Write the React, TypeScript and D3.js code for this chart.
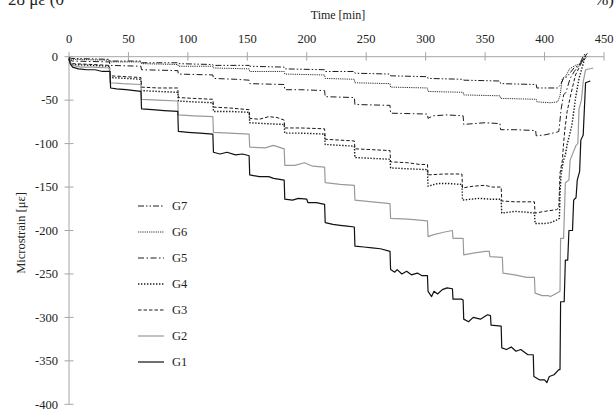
import React from "react";
import * as d3 from "d3";

type P = [number, number];

const xTicks = [0, 50, 100, 150, 200, 250, 300, 350, 400, 450];
const yTicks = [0, -50, -100, -150, -200, -250, -300, -350, -400];
const seriesNames = ["G7", "G6", "G5", "G4", "G3", "G2", "G1"];

const g1: P[] = [
  [0, -2], [1, -8], [3, -12], [8, -14], [15, -15], [22, -15], [28, -17], [34.5, -17],
  [35, -36], [40, -37], [48, -38], [55, -39], [60.5, -40],
  [61, -60], [70, -61], [80, -62], [91.5, -63],
  [92, -86], [100, -87], [110, -88], [121, -89],
  [121.5, -110], [127, -112], [133, -110], [140, -113], [146, -112], [151.5, -114],
  [152, -136], [160, -138], [168, -138], [172, -140], [181, -142],
  [181.5, -164], [188, -165], [193, -163], [200, -164], [201, -168], [208, -168], [215, -170],
  [215.5, -191], [222, -193], [228, -194], [234, -195], [240, -196],
  [240.5, -218], [248, -219], [255, -220], [262, -221], [270, -224],
  [270.5, -245], [274, -248], [276, -245], [280, -250], [284, -247], [288, -251], [293, -249], [297, -252], [301.5, -252],
  [302, -270], [305, -276], [307, -270], [310, -273], [314, -268], [318, -266], [322.5, -267],
  [323, -279], [330, -279], [331.5, -280],
  [332, -302], [336, -305], [340, -300], [346, -302], [352, -297], [354.5, -298],
  [355, -309], [363.5, -310],
  [364, -335], [368, -337], [372, -334], [376, -339], [380, -337], [386, -343], [390.5, -343],
  [391, -368], [396, -372], [400, -372], [402, -375], [404, -368], [408, -366], [412, -360],
  [413, -360], [413.5, -282], [416.5, -282], [417.5, -234], [419.5, -234], [420.5, -200], [423.5, -200],
  [424.5, -165], [426.5, -162], [427.5, -142], [429.5, -132], [430.5, -96], [432.5, -90], [434.5, -30], [438.5, -28],
];

const g2: P[] = [
  [0, -2], [1, -6], [3, -10], [10, -12], [20, -12], [34, -13],
  [34.5, -30], [45, -31], [60.5, -32],
  [61, -49], [75, -50], [91.5, -51],
  [92, -67], [105, -68], [121, -69],
  [121.5, -87], [135, -88], [151.5, -89],
  [152, -104], [165, -105], [172, -102], [181, -106],
  [181.5, -125], [190, -125], [198, -122], [205, -126], [215, -127],
  [215.5, -145], [228, -147], [240, -148],
  [240.5, -165], [255, -167], [270, -169],
  [270.5, -186], [285, -187], [301.5, -189],
  [302, -207], [306, -205], [315, -202], [322.5, -200],
  [323, -209], [331.5, -209],
  [332, -228], [340, -226], [350, -224], [353.5, -224],
  [354, -230], [364.5, -231],
  [365, -249], [375, -251], [385, -254], [391.5, -254],
  [392, -272], [398, -275], [403, -275], [405, -276], [409, -273], [413, -270],
  [413.5, -209], [416, -209], [417.5, -145], [420.5, -142], [421.5, -119], [426.5, -102], [428, -100],
  [429, -60], [431, -50], [432.5, -29], [434.5, -15], [441, -13],
];

const g3: P[] = [
  [0, -3], [1, -6], [3, -8], [20, -9], [34, -10],
  [34.5, -22], [48, -23], [60.5, -24],
  [61, -35], [75, -36], [91.5, -36],
  [92, -47], [105, -48], [121, -49],
  [121.5, -58], [135, -59], [151.5, -61],
  [152, -71], [160, -72], [168, -69], [175, -70], [181, -73],
  [181.5, -82], [195, -82], [215, -83],
  [215.5, -95], [228, -96], [240, -97],
  [240.5, -106], [255, -107], [270, -108],
  [270.5, -121], [285, -122], [295, -124], [301.5, -124],
  [302, -136], [315, -135], [330.5, -135],
  [331, -151], [340, -149], [350, -148], [356, -150], [363.5, -150],
  [364, -166], [375, -167], [391.5, -167],
  [392, -180], [400, -178], [410, -176], [412, -174],
  [413, -134], [415, -119], [416, -100], [417, -85], [419, -63], [422, -44], [426, -21], [430, -10], [433, -2], [436, 4],
];

const g4: P[] = [
  [0, -3], [1, -7], [3, -9], [20, -10], [34, -11],
  [34.5, -24], [48, -25], [60.5, -26],
  [61, -39], [75, -40], [91.5, -41],
  [92, -51], [105, -52], [121, -53],
  [121.5, -63], [135, -63], [151.5, -64],
  [152, -76], [165, -77], [181, -78],
  [181.5, -88], [195, -88], [215, -89],
  [215.5, -101], [228, -102], [240, -103],
  [240.5, -116], [255, -117], [270, -118],
  [270.5, -128], [285, -129], [301.5, -130],
  [302, -149], [310, -146], [320, -146], [330.5, -147],
  [331, -165], [345, -163], [355, -164], [363.5, -164],
  [364, -180], [375, -178], [385, -179], [391.5, -180],
  [392, -192], [400, -192], [405, -191], [410, -188], [412.5, -186],
  [413, -157], [414, -134], [416, -119], [417.5, -113], [419, -101], [423, -79], [426, -48], [429, -25], [431.5, -13], [434.5, 2],
];

const g5: P[] = [
  [0, -2], [1, -4], [3, -5], [34, -6],
  [34.5, -10], [60.5, -11],
  [61, -15], [91.5, -16],
  [92, -20], [121, -21],
  [121.5, -25], [140, -26], [151.5, -27],
  [152, -31], [181, -32],
  [181.5, -38], [195, -38], [215, -39],
  [215.5, -46], [240, -47],
  [240.5, -55], [270, -56],
  [270.5, -65], [301.5, -66],
  [302, -71], [306, -68], [318, -67], [331.5, -68],
  [332, -78], [340, -77], [350, -76], [362.5, -77],
  [363, -84], [375, -84], [392.5, -85],
  [393, -91], [400, -90], [410, -87], [412, -86],
  [414, -60], [416, -44], [418, -41], [421.5, -25], [425, -17], [429, -10], [433, -2], [436, 2],
];

const g6: P[] = [
  [0, -1], [2, -3], [34, -4],
  [34.5, -6], [60.5, -6],
  [61, -8], [91.5, -9],
  [92, -11], [121, -11],
  [121.5, -13], [151.5, -14],
  [152, -17], [181, -17],
  [181.5, -20], [215, -21],
  [215.5, -25], [240, -26],
  [240.5, -30], [270, -31],
  [270.5, -35], [301.5, -36],
  [302, -40], [331.5, -41],
  [332, -44], [362.5, -45],
  [363, -48], [393, -49],
  [393.5, -52], [405, -53], [411, -52],
  [413, -45], [415, -25], [418, -22], [421, -14], [426, -10], [430, -8], [434.5, -2], [436, 0],
];

const g7: P[] = [
  [0, -1], [2, -2], [34, -3],
  [34.5, -5], [60.5, -5],
  [61, -7], [91.5, -7],
  [92, -8], [121, -9],
  [121.5, -10], [151.5, -10],
  [152, -11], [181, -12],
  [181.5, -14], [215, -15],
  [215.5, -17], [240, -17],
  [240.5, -19], [270, -20],
  [270.5, -22], [301.5, -23],
  [302, -25], [331.5, -26],
  [332, -27], [362.5, -28],
  [363, -31], [393, -32],
  [393.5, -36], [411, -36],
  [413, -33], [416, -25], [419, -23], [424.7, -13], [429, -10], [433, 2], [436, 4],
];

const seriesData: P[][] = [g7, g6, g5, g4, g3, g2, g1];

const styles = [
  { stroke: "#1a1a1a", width: 1, dash: "6,2,1.5,2,1.5,2" },
  { stroke: "#1a1a1a", width: 0.9, dash: "1.2,1" },
  { stroke: "#1a1a1a", width: 1, dash: "6,2.5,1.5,2.5" },
  { stroke: "#1a1a1a", width: 1.4, dash: "1.4,1.6" },
  { stroke: "#1a1a1a", width: 1, dash: "3.5,2" },
  { stroke: "#9a9a9a", width: 1.2, dash: "" },
  { stroke: "#111111", width: 1.2, dash: "" },
];

export default function App() {
  const W = 616;
  const H = 412;
  const x = d3.scaleLinear().domain([0, 450]).range([69, 604]);
  const y = d3.scaleLinear().domain([0, -400]).range([56.7, 404.3]);
  const line = d3
    .line<P>()
    .x((d) => x(d[0]))
    .y((d) => y(d[1]));
  const font = "'Liberation Serif', 'Times New Roman', serif";
  const axisColor = "#a6a6a6";

  return (
    <svg
      width={W}
      height={H}
      style={{ position: "absolute", left: 0, top: 0, background: "#fff" }}
      fontFamily={font}
    >
      <rect width={W} height={H} fill="#fff" />
      {/* cropped text from above */}
      <text x={8} y={5} fontSize={17} fill="#222">28 με (0</text>
      <text x={614} y={5} fontSize={17} fill="#222" textAnchor="end">%)</text>

      {/* axis title */}
      <text x={338} y={19} fontSize={12} textAnchor="middle" fill="#222">
        Time  [min]
      </text>

      {/* x axis */}
      <line x1={x(0)} x2={x(450)} y1={y(0)} y2={y(0)} stroke={axisColor} strokeWidth={1} />
      {xTicks.map((t) => (
        <g key={"xt" + t}>
          <line x1={x(t)} x2={x(t)} y1={y(0) - 4.5} y2={y(0) + 4} stroke={axisColor} />
          <text x={x(t)} y={42.5} fontSize={12.5} textAnchor="middle" fill="#222">
            {t}
          </text>
        </g>
      ))}

      {/* y axis */}
      <line x1={x(0)} x2={x(0)} y1={y(0)} y2={y(-400)} stroke={axisColor} strokeWidth={1} />
      {yTicks.map((v) => (
        <g key={"yt" + v}>
          <line x1={x(0) - 4.5} x2={x(0) + 4.5} y1={y(v)} y2={y(v)} stroke={axisColor} />
          <text x={58} y={y(v) + 4.3} fontSize={12.5} textAnchor="end" fill="#222">
            {v}
          </text>
        </g>
      ))}
      <text
        transform={`translate(25,233) rotate(-90)`}
        fontSize={12.5}
        textAnchor="middle"
        fill="#222"
      >
        Microstrain  [με]
      </text>

      {/* series */}
      {seriesData.map((d, i) => (
        <path
          key={"s" + i}
          d={line(d) || ""}
          fill="none"
          stroke={styles[i].stroke}
          strokeWidth={styles[i].width}
          strokeDasharray={styles[i].dash || undefined}
          strokeLinejoin="round"
        />
      ))}

      {/* legend */}
      {seriesNames.map((name, i) => {
        const ly = 206 + i * 26;
        return (
          <g key={"lg" + name}>
            <line
              x1={138}
              x2={164}
              y1={ly}
              y2={ly}
              stroke={styles[i].stroke}
              strokeWidth={styles[i].width}
              strokeDasharray={styles[i].dash || undefined}
            />
            <text x={172} y={ly + 4.3} fontSize={12.5} fill="#222">
              {name}
            </text>
          </g>
        );
      })}
    </svg>
  );
}
